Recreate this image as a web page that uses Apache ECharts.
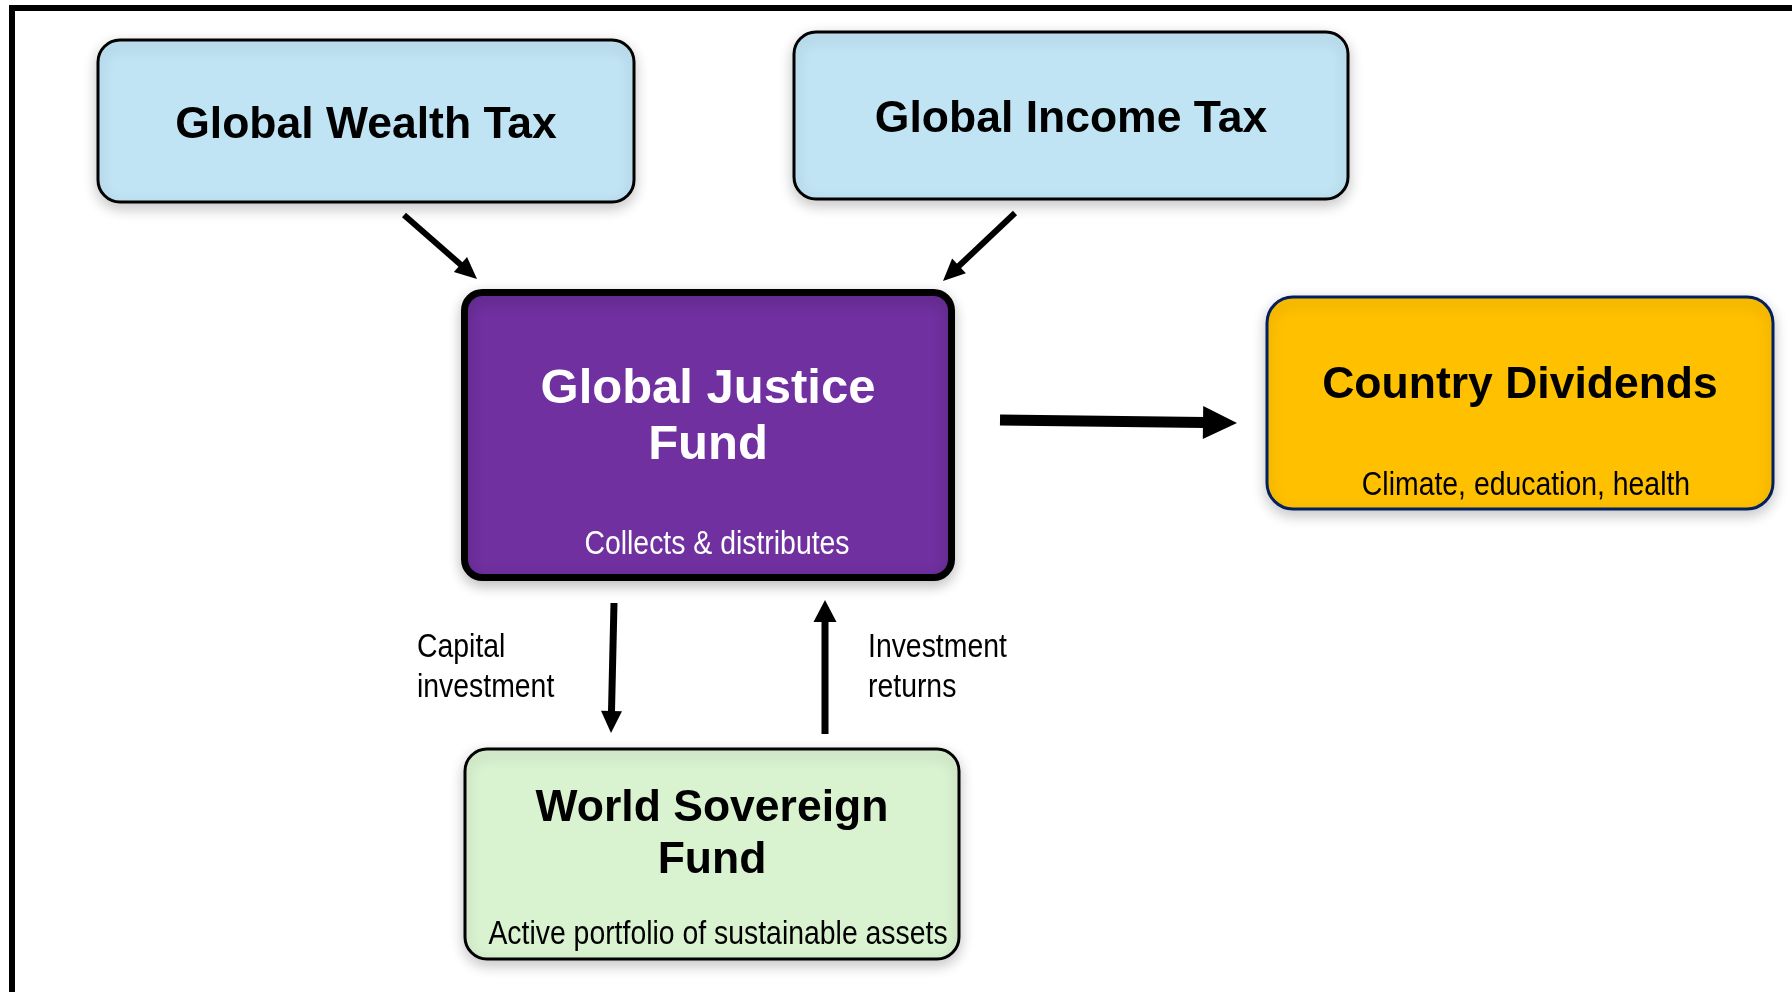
<!DOCTYPE html>
<html>
<head>
<meta charset="utf-8">
<script src="https://cdn.jsdelivr.net/npm/echarts@6/dist/echarts.min.js"></script>
<style>
  html, body { margin: 0; padding: 0; background: #fff; }
  #chart { width: 1792px; height: 992px; }
</style>
</head>
<body>
<div id="chart"></div>
<script>
// diagram content
var boxNames = ['Global Wealth Tax', 'Global Income Tax', 'Global Justice Fund', 'Country Dividends', 'World Sovereign Fund']
var boxTitles = ['Global Wealth Tax', 'Global Income Tax', 'Global Justice\nFund', 'Country Dividends', 'World Sovereign\nFund']
var boxNotes = ['', '', 'Collects & distributes', 'Climate, education, health', 'Active portfolio of sustainable assets']
var flowFrom = ['Global Wealth Tax', 'Global Income Tax', 'Global Justice Fund', 'Global Justice Fund', 'World Sovereign Fund']
var flowTo = ['Global Justice Fund', 'Global Justice Fund', 'Country Dividends', 'World Sovereign Fund', 'Global Justice Fund']
var flowLabels = ['', '', '', 'Capital\ninvestment', 'Investment\nreturns']

// layout (pixel space of the 1792x992 canvas)
var boxLayout = [
  { rect: [98, 40, 634, 202], r: 22, fill: '#C0E4F4', stroke: '#000', lw: 3, color: '#000', titleAt: [366, 125.5], size: 44.5, lh: 52, noteAt: null },
  { rect: [794, 32, 1348, 199], r: 22, fill: '#C0E4F4', stroke: '#000', lw: 3, color: '#000', titleAt: [1071, 119.5], size: 44.5, lh: 52, noteAt: null },
  { rect: [464.5, 292.5, 951.5, 577.5], r: 18, fill: '#7030A0', stroke: '#000', lw: 7, color: '#fff', titleAt: [708, 417], size: 49, lh: 56, noteAt: [717, 545] },
  { rect: [1267, 297, 1773, 509], r: 26, fill: '#FFC000', stroke: '#002060', lw: 3, color: '#000', titleAt: [1520, 385.5], size: 44.5, lh: 52, noteAt: [1526, 486] },
  { rect: [465, 749, 959, 959], r: 22, fill: '#D9F2D0', stroke: '#000', lw: 3, color: '#000', titleAt: [712, 834.5], size: 44.5, lh: 52, noteAt: [718, 935] }
]
var flowLayout = [
  { from: [404, 215], to: [477, 279], lw: 6, head: [22, 20] },
  { from: [1015, 213], to: [943, 281], lw: 6, head: [22, 20] },
  { from: [1000, 420], to: [1237, 423], lw: 11, head: [34, 33] },
  { from: [614, 603], to: [611, 733], lw: 7, head: [22, 21] },
  { from: [825, 734], to: [825, 600], lw: 7, head: [22, 23] }
]
var labelAt = [null, null, null, [417, 668], [868, 668]]

var sans = "'Liberation Sans', Arial, sans-serif"
var narrowScale = 0.835 // Arial Narrow look

var chart = echarts.init(document.getElementById('chart'))

function narrowText(txt, pos, color, align, lh) {
  return {
    type: 'text',
    x: pos[0], y: pos[1], scaleX: narrowScale,
    style: {
      text: txt, x: 0, y: 0, fill: color,
      fontFamily: sans, fontSize: 34, lineHeight: lh,
      align: align, verticalAlign: 'middle'
    }
  }
}

function renderBox(params, api) {
  var i = params.dataIndex
  var b = boxLayout[i]
  var p0 = api.coord([b.rect[0], b.rect[1]])
  var p1 = api.coord([b.rect[2], b.rect[3]])
  var t = api.coord(b.titleAt)
  var children = [{
    type: 'rect',
    shape: { x: p0[0], y: p0[1], width: p1[0] - p0[0], height: p1[1] - p0[1], r: b.r },
    style: {
      fill: b.fill, stroke: b.stroke, lineWidth: b.lw,
      shadowBlur: 14, shadowOffsetY: 5, shadowColor: 'rgba(0,0,0,0.22)'
    }
  }, {
    type: 'text',
    style: {
      text: boxTitles[i], x: t[0], y: t[1], fill: b.color,
      fontFamily: sans, fontWeight: 'bold', fontSize: b.size, lineHeight: b.lh,
      align: 'center', verticalAlign: 'middle'
    }
  }]
  if (b.noteAt) {
    children.push(narrowText(boxNotes[i], api.coord(b.noteAt), b.color, 'center', 40))
  }
  return { type: 'group', children: children }
}

function renderFlow(params, api) {
  var i = params.dataIndex
  var f = flowLayout[i]
  var a = api.coord(f.from)
  var b = api.coord(f.to)
  var dx = b[0] - a[0], dy = b[1] - a[1]
  var len = Math.sqrt(dx * dx + dy * dy)
  var ux = dx / len, uy = dy / len
  var hl = f.head[0], hw = f.head[1] / 2
  var bx = b[0] - ux * hl, by = b[1] - uy * hl
  var children = [{
    type: 'line',
    shape: { x1: a[0], y1: a[1], x2: bx + ux * 2, y2: by + uy * 2 },
    style: { stroke: '#000', lineWidth: f.lw }
  }, {
    type: 'polygon',
    shape: { points: [[b[0], b[1]], [bx - uy * hw, by + ux * hw], [bx + uy * hw, by - ux * hw]] },
    style: { fill: '#000' }
  }]
  if (flowLabels[i] && labelAt[i]) {
    children.push(narrowText(flowLabels[i], api.coord(labelAt[i]), '#000', 'left', 40))
  }
  return { type: 'group', children: children }
}

function renderFrame(params, api) {
  var p0 = api.coord([12, 8])
  var p1 = api.coord([1810, 1010])
  return {
    type: 'rect',
    shape: { x: p0[0], y: p0[1], width: p1[0] - p0[0], height: p1[1] - p0[1] },
    style: { fill: 'none', stroke: '#000', lineWidth: 6 }
  }
}

chart.setOption({
  animation: false,
  backgroundColor: '#fff',
  grid: { left: 0, right: 0, top: 0, bottom: 0 },
  xAxis: { type: 'value', min: 0, max: 1792, show: false },
  yAxis: { type: 'value', min: 0, max: 992, inverse: true, show: false },
  series: [
    { type: 'custom', name: 'frame', renderItem: renderFrame, data: [[0, 0]], silent: true },
    {
      type: 'custom', name: 'flows', renderItem: renderFlow,
      data: flowFrom.map(function (s, i) { return { name: s + ' → ' + flowTo[i], value: [i, 0] } })
    },
    {
      type: 'custom', name: 'boxes', renderItem: renderBox,
      data: boxNames.map(function (n, i) { return { name: n, value: [i, 0] } })
    }
  ]
})
</script>
</body>
</html>
